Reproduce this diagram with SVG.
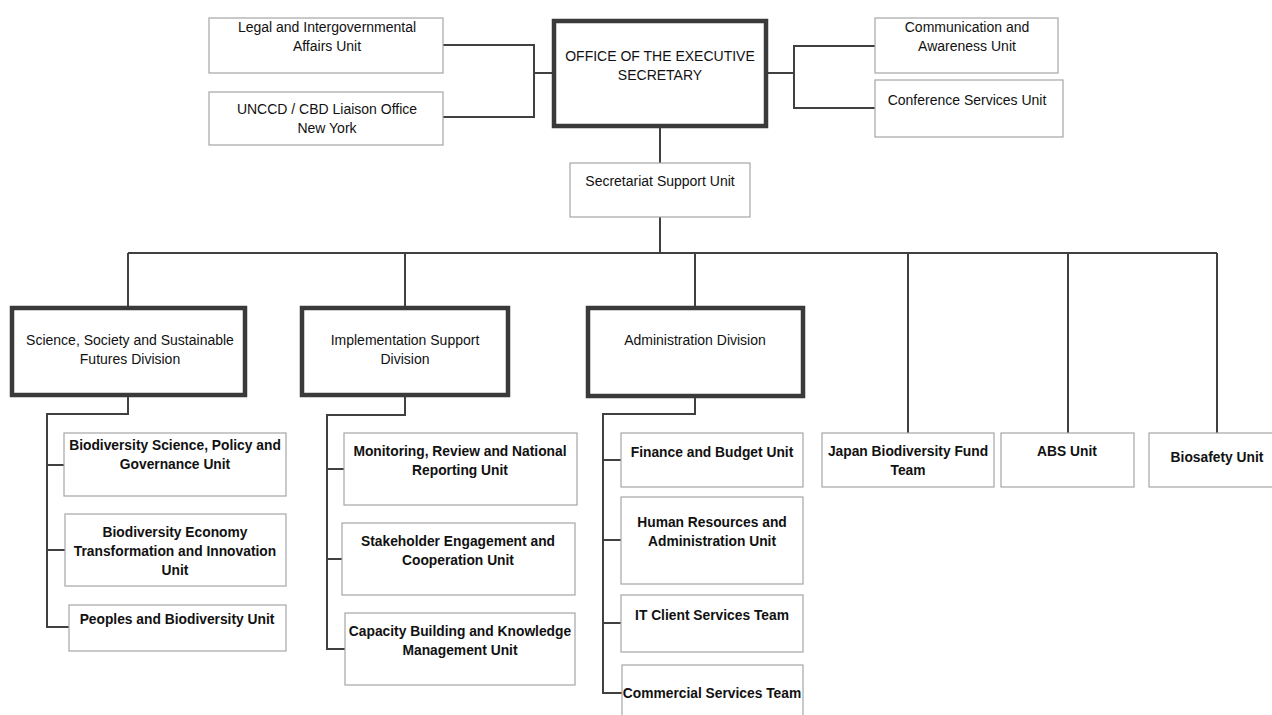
<svg xmlns="http://www.w3.org/2000/svg" width="1272" height="715" viewBox="0 0 1272 715">
<style>
.bg{fill:#ffffff}
.thin{fill:#ffffff;stroke:#a6a6a6;stroke-width:1.2}
.thick{fill:#ffffff;stroke:#3a3a3a;stroke-width:4.5}
.conn{fill:none;stroke:#404040;stroke-width:2}
text{font-family:"Liberation Sans",Arial,sans-serif;font-size:14px;fill:#111;text-anchor:middle}
.b{font-weight:bold;font-size:13.8px}
</style>
<rect class="bg" x="0" y="0" width="1272" height="715"/>
<g id="connectors">
<path class="conn" d="M443,45 H534 V117 H443 M534,73 H554"/>
<path class="conn" d="M766,73 H794 M875,46 H794 V108 H875"/>
<path class="conn" d="M660,126 V163 M660,217 V253"/>
<path class="conn" d="M128,253 H1217"/>
<path class="conn" d="M128,253 V308 M405,253 V308 M695,253 V308 M908,253 V433 M1068,253 V433 M1217,253 V433"/>
<path class="conn" d="M128,396 V414 H47 V627 H69 M47,465 H64 M47,550 H65"/>
<path class="conn" d="M405,396 V415 H327 V649 H345 M327,469 H344 M327,559 H342"/>
<path class="conn" d="M695,397 V414 H603 V693 H622 M603,460 H621 M603,540 H621 M603,623 H621"/>
</g>
<g id="legal"><rect class="thin" x="209" y="18" width="234" height="55"/><text x="327" y="32">Legal and Intergovernmental</text><text x="327" y="51">Affairs Unit</text></g>
<g id="unccd"><rect class="thin" x="209" y="92" width="234" height="53"/><text x="327" y="114">UNCCD / CBD Liaison Office</text><text x="327" y="133">New York</text></g>
<g id="exec"><rect class="thick" x="554" y="21" width="212" height="105"/><text x="660" y="61">OFFICE OF THE EXECUTIVE</text><text x="660" y="80">SECRETARY</text></g>
<g id="communication"><rect class="thin" x="875" y="18" width="183" height="55"/><text x="967" y="32">Communication and</text><text x="967" y="51">Awareness Unit</text></g>
<g id="conference"><rect class="thin" x="875" y="80" width="188" height="57"/><text x="967" y="105">Conference Services Unit</text></g>
<g id="secretariat"><rect class="thin" x="570" y="163" width="180" height="54"/><text x="660" y="186">Secretariat Support Unit</text></g>
<g id="div-science"><rect class="thick" x="12" y="308" width="233" height="87"/><text x="130" y="345">Science, Society and Sustainable</text><text x="130" y="364">Futures Division</text></g>
<g id="div-implementation"><rect class="thick" x="302" y="308" width="206" height="87"/><text x="405" y="345">Implementation Support</text><text x="405" y="364">Division</text></g>
<g id="div-admin"><rect class="thick" x="588" y="308" width="215" height="88"/><text x="695" y="345">Administration Division</text></g>
<g id="bio-science"><rect class="thin" x="64" y="433" width="222" height="63"/><text class="b" x="175" y="450">Biodiversity Science, Policy and</text><text class="b" x="175" y="469">Governance Unit</text></g>
<g id="bio-economy"><rect class="thin" x="65" y="514" width="221" height="72"/><text class="b" x="175" y="537">Biodiversity Economy</text><text class="b" x="175" y="556">Transformation and Innovation</text><text class="b" x="175" y="575">Unit</text></g>
<g id="peoples"><rect class="thin" x="69" y="605" width="217" height="46"/><text class="b" x="177" y="624">Peoples and Biodiversity Unit</text></g>
<g id="monitoring"><rect class="thin" x="344" y="433" width="233" height="72"/><text class="b" x="460" y="456">Monitoring, Review and National</text><text class="b" x="460" y="475">Reporting Unit</text></g>
<g id="stakeholder"><rect class="thin" x="342" y="523" width="233" height="72"/><text class="b" x="458" y="546">Stakeholder Engagement and</text><text class="b" x="458" y="565">Cooperation Unit</text></g>
<g id="capacity"><rect class="thin" x="345" y="613" width="230" height="72"/><text class="b" x="460" y="636">Capacity Building and Knowledge</text><text class="b" x="460" y="655">Management Unit</text></g>
<g id="finance"><rect class="thin" x="621" y="433" width="182" height="54"/><text class="b" x="712" y="457">Finance and Budget Unit</text></g>
<g id="hr"><rect class="thin" x="621" y="497" width="182" height="87"/><text class="b" x="712" y="527">Human Resources and</text><text class="b" x="712" y="546">Administration Unit</text></g>
<g id="it"><rect class="thin" x="621" y="595" width="182" height="57"/><text class="b" x="712" y="620">IT Client Services Team</text></g>
<g id="commercial"><rect class="thin" x="622" y="665" width="181" height="60"/><text class="b" x="712" y="698">Commercial Services Team</text></g>
<g id="japan"><rect class="thin" x="822" y="433" width="172" height="54"/><text class="b" x="908" y="456">Japan Biodiversity Fund</text><text class="b" x="908" y="475">Team</text></g>
<g id="abs"><rect class="thin" x="1001" y="433" width="133" height="54"/><text class="b" x="1067" y="456">ABS Unit</text></g>
<g id="biosafety"><rect class="thin" x="1149" y="433" width="136" height="54"/><text class="b" x="1217" y="462">Biosafety Unit</text></g>
</svg>
